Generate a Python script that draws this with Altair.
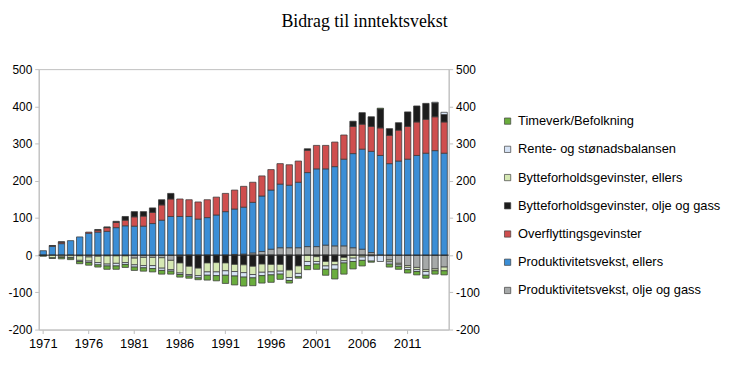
import altair as alt
import pandas as pd

years = list(range(1971, 2016))

S_TIME = "Timeverk/Befolkning"
S_RENTE = "Rente- og stønadsbalansen"
S_BYTTE_E = "Bytteforholdsgevinster, ellers"
S_BYTTE_O = "Bytteforholdsgevinster, olje og gass"
S_OVER = "Overflyttingsgevinster"
S_PROD_E = "Produktivitetsvekst, ellers"
S_PROD_O = "Produktivitetsvekst, olje og gass"

prod_olje = [0, 0, 0, 0, -2, -5, -3, -2, -2, -2,
             -8, -6, -6, -7, -14, -3, 0, 0, 0, 0,
             0, 2, 3, 6, 10, 16, 20, 20, 20, 23,
             23, 27, 25, 25, 20, 16, 7, 0, -13, -22,
             -28, -33, -39, -37, -32]
prod_ellers = [12, 24, 31, 39, 49, 59, 62, 64, 74, 79,
               78, 78, 85, 94, 104, 104, 104, 97, 101, 108,
               117, 122, 126, 136, 149, 159, 171, 168, 176, 199,
               209, 205, 213, 233, 253, 269, 272, 268, 246, 253,
               258, 268, 274, 281, 274]
overflytting = [0, 1, 4, 0, 0, 3, 5, 10, 14, 15,
                25, 27, 30, 41, 47, 47, 45, 46, 48, 48,
                49, 51, 56, 54, 54, 55, 55, 55, 57, 60,
                63, 63, 66, 65, 73, 67, 67, 74, 76, 83,
                88, 90, 91, 91, 84]
bytte_olje = [0, 1, 1, 0, 0, 0, 2, 2, 3, 10,
              14, 12, 12, 14, 15, -18, -30, -35, -21, -20,
              -21, -25, -26, -30, -24, -25, -25, -40, -29, 4,
              -4, -17, -17, -6, 14, 31, 26, 51, 18, 20,
              39, 43, 43, 37, 20]
bytte_ellers = [-1, -7, -5, -6, -12, -11, -17, -22, -20, -18,
                -18, -22, -22, -28, -25, -27, -22, -20, -24, -25,
                -21, -19, -21, -22, -22, -20, -18, -20, -20, -17,
                -13, -12, -9, -9, -8, -5, -2, 0, -5, -4,
                -5, -6, -5, -5, -10]
rente = [0, 0, -1, -2, -3, -4, -6, -5, -7, -5,
         -6, -6, -8, -6, -4, -4, -4, -6, -9, -10,
         -12, -12, -12, -9, -9, -8, -8, -8, -9, -11,
         -7, -9, -12, -6, -9, -9, -14, -17, -6, -4,
         -6, -5, -10, 2, 6]
timeverk = [-2, -2, -4, -4, -6, -7, -6, -9, -9, -8,
            -9, -9, -9, -10, -8, -7, -6, -5, -13, -14,
            -22, -24, -24, -21, -20, -20, -14, -7, -4, -11,
            -14, -16, -26, -30, -20, -15, -3, 2, -8, -8,
            -9, -9, -8, -9, -11]

legend_order = [S_TIME, S_RENTE, S_BYTTE_E, S_BYTTE_O, S_OVER, S_PROD_E, S_PROD_O]
legend_colors = ["#6AAD3D", "#D6E3F5", "#D5E8B3", "#1C1C1C", "#CF4E4E", "#3B8ED6", "#A6A9A9"]

stack_series = [
    (S_PROD_O, prod_olje),
    (S_PROD_E, prod_ellers),
    (S_OVER, overflytting),
    (S_BYTTE_O, bytte_olje),
    (S_BYTTE_E, bytte_ellers),
    (S_RENTE, rente),
    (S_TIME, timeverk),
]

rows = []
for rank, (name, vals) in enumerate(stack_series):
    for yr, v in zip(years, vals):
        if v != 0:
            rows.append({"year": yr, "serie": name, "value": v, "rank": rank})
df = pd.DataFrame(rows)

y_ticks = list(range(-200, 501, 100))
x_ticks = list(range(1971, 2012, 5))

bars = alt.Chart(df).mark_bar(stroke="#3a3a3a", strokeWidth=0.75).encode(
    x=alt.X("year:O",
            scale=alt.Scale(paddingInner=0.3, paddingOuter=0.15),
            axis=alt.Axis(values=x_ticks, title=None, labelAngle=0, tickSize=4,
                          labelPadding=4, labelFontSize=13)),
    y=alt.Y("value:Q", stack="zero",
            scale=alt.Scale(domain=[-200, 500], nice=False),
            axis=alt.Axis(values=y_ticks, title=None, orient="left",
                          labelExpr="'' + datum.value", tickSize=4, labelPadding=3,
                          labelFontSize=12)),
    color=alt.Color("serie:N",
                    scale=alt.Scale(domain=legend_order, range=legend_colors),
                    legend=alt.Legend(title=None, orient="none", legendX=467, legendY=46,
                                      symbolType="square", symbolSize=40,
                                      symbolStrokeColor="#404040", symbolStrokeWidth=0.7,
                                      labelFont="Liberation Sans", labelFontSize=13,
                                      labelColor="black", labelOffset=4, rowPadding=14.5,
                                      labelLimit=400)),
    order=alt.Order("rank:Q", sort="ascending"),
)

zero = alt.Chart(pd.DataFrame({"y": [0]})).mark_rule(color="#222222", strokeWidth=1).encode(
    y=alt.Y("y:Q", scale=alt.Scale(domain=[-200, 500], nice=False),
            axis=alt.Axis(values=y_ticks, title=None, orient="right",
                          labelExpr="'' + datum.value", tickSize=4, labelPadding=3,
                          labelFontSize=12)),
)

chart = alt.layer(bars, zero).resolve_scale(y="independent").properties(
    width=414,
    height=263,
    title=alt.TitleParams("Bidrag til inntektsvekst", font="Liberation Serif", fontSize=18,
                          fontWeight="normal", anchor="middle", dx=122, offset=33,
                          color="black"),
    padding={"left": 31, "top": 60, "right": 276, "bottom": 30},
    autosize=alt.AutoSizeParams(type="none"),
).configure_view(
    stroke="#BFBFBF", strokeWidth=1
).configure_axis(
    domainColor="#BFBFBF", tickColor="#BFBFBF", labelFont="Liberation Sans",
    labelColor="black", grid=False
)

chart.save("out.html", embed_options={"renderer": "svg", "actions": False})
